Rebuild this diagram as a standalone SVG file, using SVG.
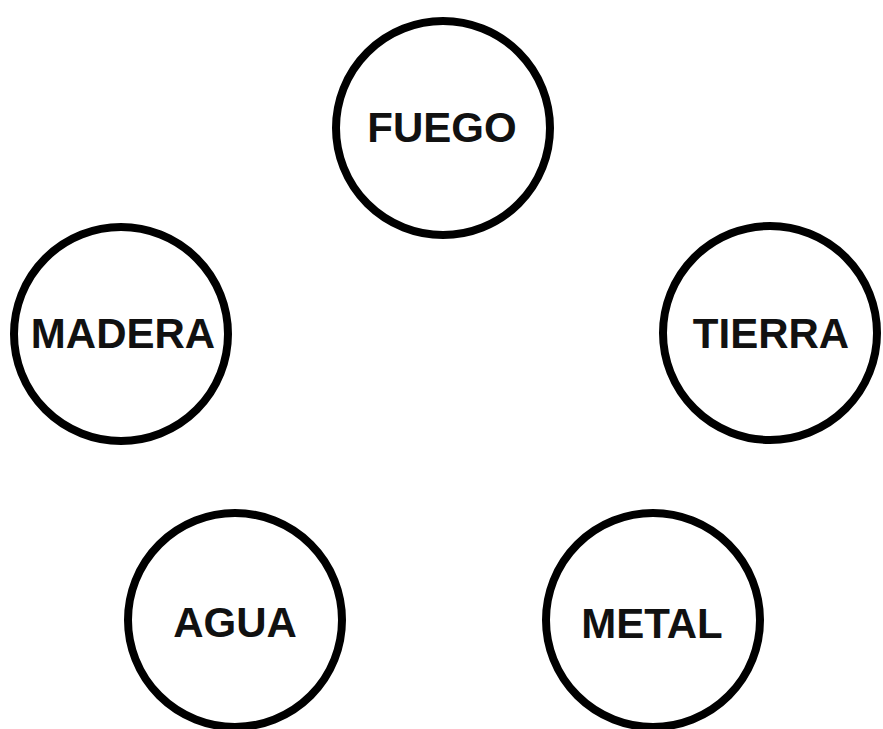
<svg xmlns="http://www.w3.org/2000/svg" width="883" height="729" viewBox="0 0 883 729">
<style>
.n circle{fill:#fff;stroke:#000;stroke-width:8}
.n text{font-family:"Liberation Sans",Arial,sans-serif;font-weight:bold;font-size:42px;text-anchor:middle;fill:#111}
</style>
<rect width="883" height="729" fill="#fff"/>
<g id="connectors"></g>
<g id="fuego" class="n"><circle cx="443" cy="128" r="107"/><text x="442" y="142">FUEGO</text></g>
<g id="madera" class="n"><circle cx="121" cy="334" r="107"/><text x="123" y="348">MADERA</text></g>
<g id="tierra" class="n"><circle cx="770" cy="333" r="107"/><text x="771" y="348">TIERRA</text></g>
<g id="agua" class="n"><circle cx="235" cy="620" r="107"/><text x="235" y="637">AGUA</text></g>
<g id="metal" class="n"><circle cx="653" cy="620" r="107"/><text x="652" y="638">METAL</text></g>
</svg>
